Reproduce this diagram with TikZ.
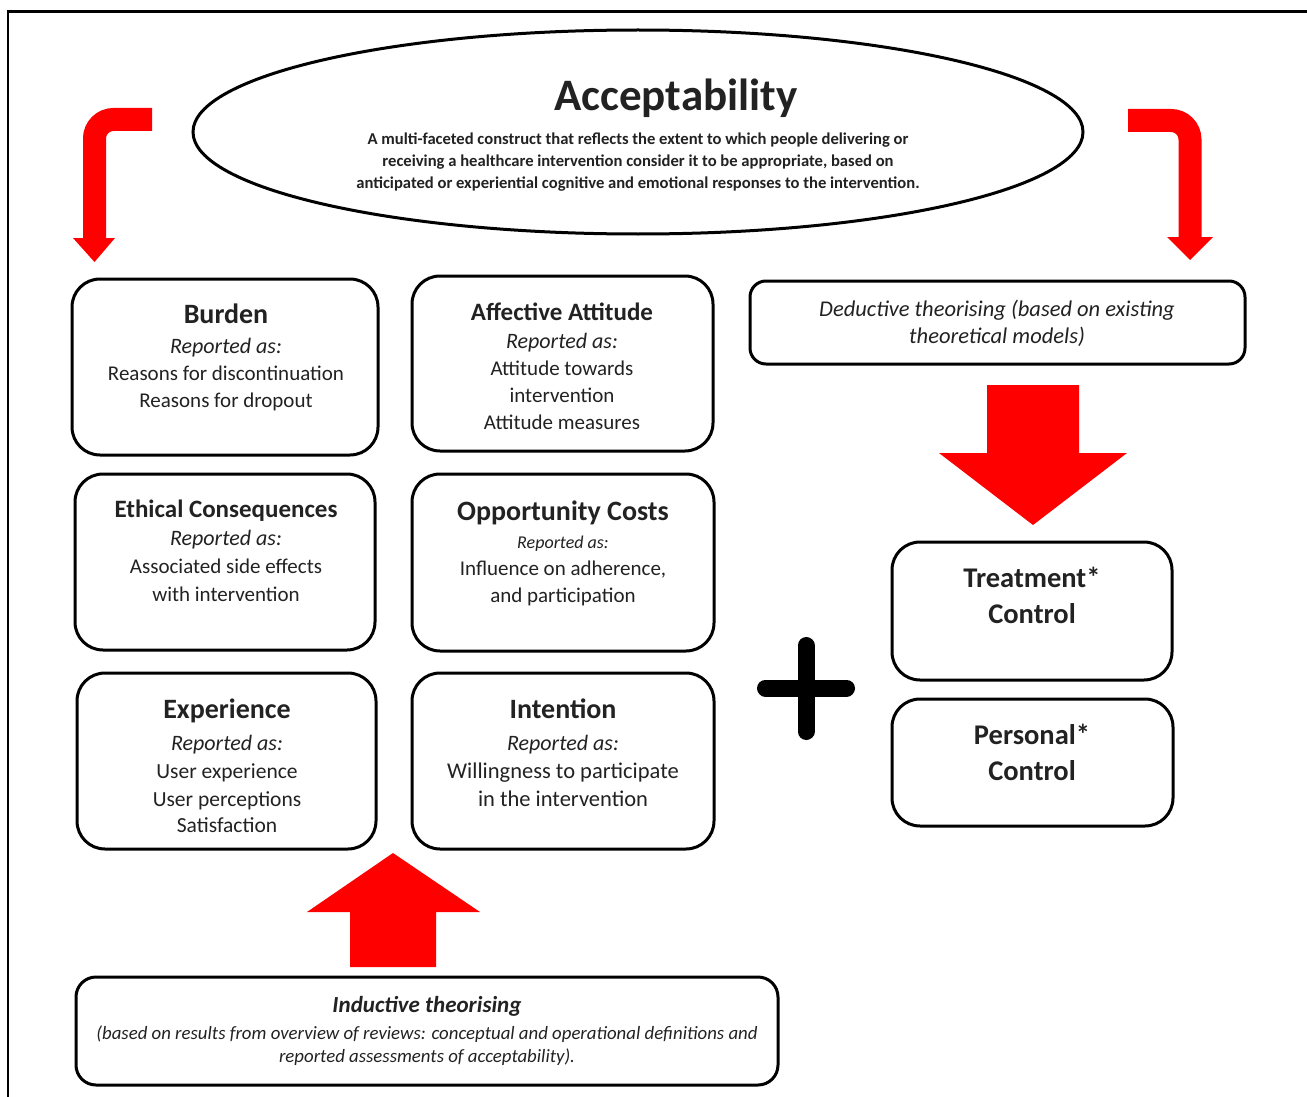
\documentclass[tikz,border=0pt]{standalone}
\usepackage{fontspec}
\setmainfont{Carlito}
\usetikzlibrary{shapes.geometric}
\definecolor{txtc}{HTML}{222222}
\definecolor{arrred}{HTML}{FF0000}
\tikzset{
  box/.style={draw=black, line width=3pt, rounded corners=28pt, fill=white, inner sep=0pt},
  txt/.style={align=center, text=txtc, inner sep=0pt, font=\fontsize{21}{27}\selectfont},
  bent/.style={draw=arrred, line width=23pt, rounded corners=19pt},
  head/.style={fill=arrred},
}
\newcommand{\rep}{\textit{\fontsize{22}{27}\selectfont Reported as:}}
\begin{document}
\begin{tikzpicture}[x=1pt,y=-1pt]
\useasboundingbox (0,0) rectangle (1307,1097);
\fill[white] (0,0) rectangle (1307,1097);
% frame
\draw[line width=2.5pt] (8,1097) -- (8,11.5) -- (1307,11.5);

% ellipse
\node[draw, ellipse, line width=3pt, minimum width=890pt, minimum height=204pt, inner sep=0pt] (acc) at (638,132) {};
\node[text=txtc, inner sep=0pt, font=\fontsize{45}{48}\selectfont\bfseries] (acctitle) at (676,98) {Acceptability};
\node[txt, font=\fontsize{16.6}{22}\selectfont\bfseries] (accdesc) at (638,162)
  {A multi-faceted construct that reflects the extent to which people delivering or\\
   receiving a healthcare intervention consider it to be appropriate, based on\\
   anticipated or experiential cognitive and emotional responses to the intervention.};

% bent arrows
\draw[bent] (152,119.5) -- (94.5,119.5) -- (94.5,240);
\fill[head] (73,238) -- (115,238) -- (94.5,262) -- cycle;
\draw[bent] (1128,120.5) -- (1190,120.5) -- (1190,239);
\fill[head] (1167,237) -- (1213,237) -- (1190,260) -- cycle;

% boxes
\node[box, minimum width=306pt, minimum height=176pt] (burden) at (225,367) {};
\node[box, minimum width=301pt, minimum height=175pt] (affect) at (562.5,363.5) {};
\node[box, minimum width=300pt, minimum height=176pt] (ethic) at (225,562) {};
\node[box, minimum width=302pt, minimum height=177pt] (opport) at (563,562.5) {};
\node[box, minimum width=299pt, minimum height=176pt] (exper) at (226.5,761) {};
\node[box, minimum width=302pt, minimum height=176pt] (intent) at (563,761) {};
\node[box, rounded corners=16pt, minimum width=495pt, minimum height=83pt] (deduct) at (997.5,322.5) {};
\node[box, minimum width=280pt, minimum height=138pt] (treat) at (1032,611) {};
\node[box, minimum width=281pt, minimum height=127pt] (person) at (1032.5,762.5) {};
\node[box, rounded corners=20pt, minimum width=702pt, minimum height=108pt] (induct) at (427,1031) {};

% box texts
\node[txt] (burdentxt) at (226,357)
  {{\fontsize{28}{30}\selectfont\bfseries Burden}\\[3pt] \rep\\ Reasons for discontinuation\\ Reasons for dropout};
\node[txt] (affecttxt) at (562,366)
  {{\fontsize{25}{27}\selectfont\bfseries Affective Attitude}\\[1pt] \rep\\ Attitude towards\\ intervention\\ Attitude measures};
\node[txt, font=\fontsize{21}{28}\selectfont] (ethictxt) at (226,551)
  {{\fontsize{25}{27}\selectfont\bfseries Ethical Consequences}\\ \rep\\ Associated side effects\\ with intervention};
\node[txt, font=\fontsize{21}{27}\selectfont] (opporttxt) at (563,553)
  {{\fontsize{28}{30}\selectfont\bfseries Opportunity Costs}\\[1pt] {\itshape\fontsize{18}{20}\selectfont Reported as:}\\ Influence on adherence,\\ and participation};
\node[txt, font=\fontsize{21.5}{28}\selectfont] (expertxt) at (227,766)
  {{\fontsize{28}{30}\selectfont\bfseries Experience}\\[4pt] \rep\\ User experience\\ User perceptions\\[-2pt] Satisfaction};
\node[txt, font=\fontsize{22.5}{28}\selectfont] (intenttxt) at (563,753)
  {{\fontsize{28}{30}\selectfont\bfseries Intention}\\[4pt] \rep\\ Willingness to participate\\ in the intervention};
\node[txt, font=\fontsize{22.5}{27}\selectfont\itshape] (deducttxt) at (997,323.5)
  {Deductive theorising (based on existing\\ theoretical models)};
\node[txt, font=\fontsize{28.5}{36}\selectfont\bfseries] (treattxt) at (1032,595)
  {Treatment*\\ Control};
\node[txt, font=\fontsize{28.5}{36}\selectfont\bfseries] (persontxt) at (1032,752)
  {Personal*\\ Control};
\node[txt, font=\fontsize{18.8}{23}\selectfont\itshape] (inducttxt) at (427,1031)
  {{\fontsize{23}{24}\selectfont\bfseries\itshape Inductive theorising}\\[4pt]
   (based on results from overview of reviews: conceptual and operational definitions and\\
   reported assessments of acceptability).};

% big arrows
\fill[arrred] (987,385) -- (1079,385) -- (1079,453) -- (1127,453) -- (1033,525) -- (939,453) -- (987,453) -- cycle;
\fill[arrred] (350,967) -- (436,967) -- (436,912) -- (480,912) -- (393,853) -- (307,912) -- (350,912) -- cycle;

% plus sign
\draw[line width=17pt, line cap=round] (806,645.5) -- (806,731.5);
\draw[line width=17pt, line cap=round] (765.5,688) -- (846.5,688);
\end{tikzpicture}
\end{document}
